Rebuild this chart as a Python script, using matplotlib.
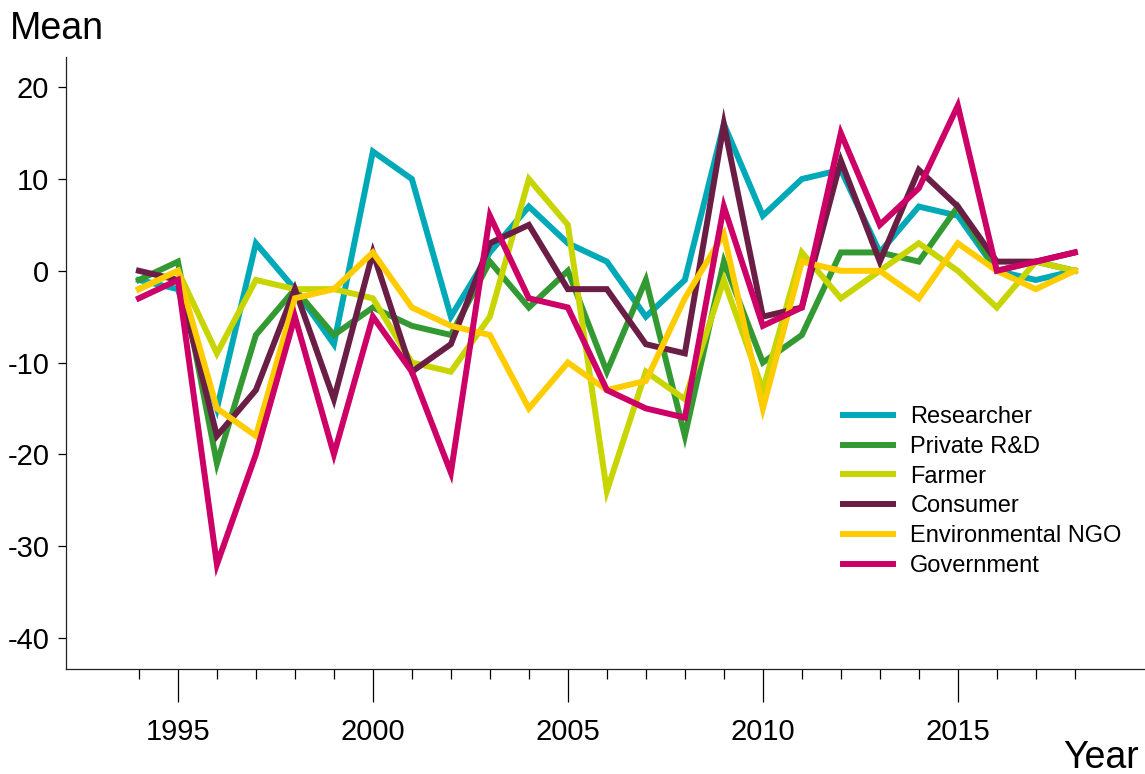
import matplotlib
matplotlib.use("Agg")
import matplotlib.pyplot as plt

plt.rcParams['font.family'] = ['Liberation Sans', 'DejaVu Sans']
plt.rcParams['axes.unicode_minus'] = False

years = list(range(1994, 2019))

researcher = [-1, -2, -15, 3, -2, -8, 13, 10, -5, 2, 7, 3, 1, -5, -1, 16, 6, 10, 11, 2, 7, 6, 0, -1, 0]
private_rd = [-1, 1, -21, -7, -2, -7, -4, -6, -7, 1, -4, 0, -11, -1, -18, 1, -10, -7, 2, 2, 1, 7, 0, 1, 0]
farmer = [-2, 0, -9, -1, -2, -2, -3, -10, -11, -5, 10, 5, -24, -11, -14, -1, -13, 2, -3, 0, 3, 0, -4, 1, 0]
consumer = [0, -1, -18, -13, -2, -14, 2, -11, -8, 3, 5, -2, -2, -8, -9, 16, -5, -4, 12, 1, 11, 7, 1, 1, 2]
env_ngo = [-2, 0, -15, -18, -3, -2, 2, -4, -6, -7, -15, -10, -13, -12, -3, 4, -15, 1, 0, 0, -3, 3, 0, -2, 0]
government = [-3, -1, -32, -20, -5, -20, -5, -11, -22, 6, -3, -4, -13, -15, -16, 7, -6, -4, 15, 5, 9, 18, 0, 1, 2]

series = [
    ("Researcher", researcher, "#00a9b7"),
    ("Private R&D", private_rd, "#339a33"),
    ("Farmer", farmer, "#c9d500"),
    ("Consumer", consumer, "#6b1e45"),
    ("Environmental NGO", env_ngo, "#ffcc00"),
    ("Government", government, "#cc0066"),
]

fig = plt.figure(figsize=(11.45, 7.74), dpi=100)
ax = fig.add_axes([66 / 1145, 1 - 669 / 774, 1 - 66 / 1145, (669 - 57) / 774])

for name, vals, col in series:
    ax.plot(years, vals, color=col, linewidth=4.3, label=name,
            solid_joinstyle='miter')

ax.set_xlim(1992.13, 2019.8)
ax.set_ylim(-43.4, 23.3)

ax.spines['top'].set_visible(False)
ax.spines['right'].set_visible(False)
for s in ('left', 'bottom'):
    ax.spines[s].set_linewidth(0.9)
    ax.spines[s].set_color('#222222')

# major ticks every 5 years, minor every year
ax.set_xticks(range(1995, 2019, 5))
ax.set_xticks(years, minor=True)
ax.set_yticks(range(-40, 21, 10))
ax.tick_params(axis='x', which='major', length=24, width=0.9, pad=11,
               labelsize=21, direction='out')
ax.tick_params(axis='x', which='minor', length=7, width=0.9, direction='out')
ax.tick_params(axis='y', which='major', length=6, width=0.9, pad=6,
               labelsize=21, direction='out')

fig.text(10 / 1145, 1 - 39 / 774, "Mean", fontsize=27, ha='left', va='baseline')
fig.text(1139 / 1145, 1 - 768 / 774, "Year", fontsize=27, ha='right', va='baseline')

fig.legend(loc='upper left', bbox_to_anchor=(843 / 1145, 1 - 406 / 774),
           frameon=False, fontsize=17, borderpad=0, borderaxespad=0,
           handlelength=2.1, handletextpad=0.75, labelspacing=0.33)

fig.savefig("out.png", dpi=100)
